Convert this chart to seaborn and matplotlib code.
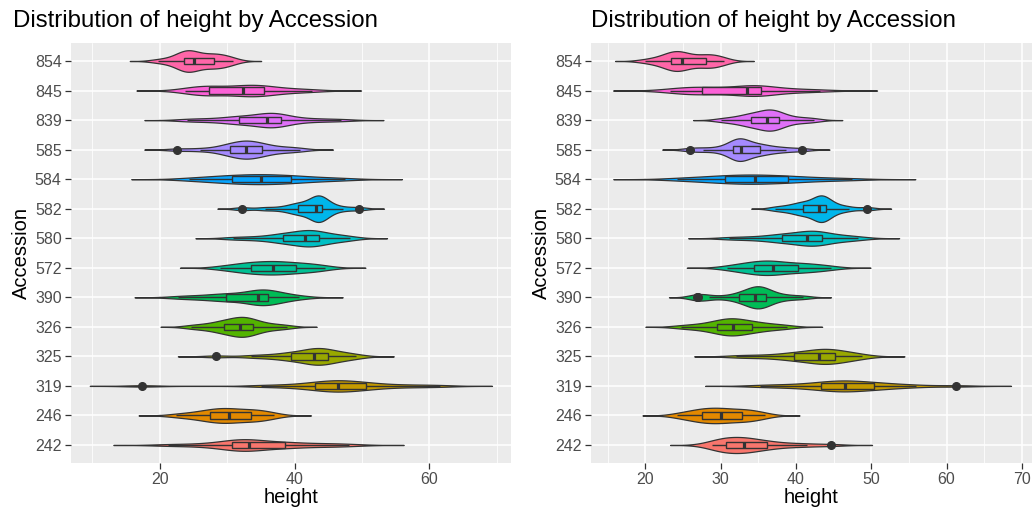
import numpy as np
import pandas as pd
import matplotlib
matplotlib.use("Agg")
import matplotlib.pyplot as plt
import seaborn as sns

# ---------------- data ----------------
accessions = ["854", "845", "839", "585", "584", "582", "580",
              "572", "390", "326", "325", "319", "246", "242"]

colors = ["#FF66A8", "#FB61D7", "#DF70F8", "#A58AFF", "#06A4FF", "#00B6EB", "#00BFC4",
          "#00C094", "#00BC56", "#53B400", "#99A800", "#C49A00", "#E38900", "#F8766D"]

# left panel heights
left_854 = [19.7, 21.4, 22.6, 23.2, 23.5, 23.6, 24.0, 24.3, 24.7, 25.0, 25.2, 25.9, 26.6, 27.4, 28.0, 28.1, 28.8, 29.5, 30.1, 30.9]
left_845 = [23.8, 24.9, 25.8, 26.7, 27.3, 27.4, 28.6, 30.1, 31.4, 32.3, 32.5, 33.2, 34.0, 34.7, 35.4, 35.5, 36.8, 38.4, 40.3, 42.6]
left_839 = [24.0, 26.5, 28.9, 30.6, 31.75, 31.85, 33.2, 34.4, 35.3, 35.8, 36.0, 36.5, 37.0, 37.5, 37.9, 38.0, 39.6, 41.5, 43.8, 46.9]
left_585 = [22.6, 25.9, 28.3, 29.6, 30.4, 30.5, 31.4, 32.0, 32.5, 32.7, 32.9, 33.3, 33.9, 34.6, 35.2, 35.3, 36.5, 37.8, 39.2, 40.8]
left_584 = [24.3, 26.2, 28.0, 29.5, 30.6, 30.7, 32.0, 33.2, 34.2, 34.9, 35.1, 36.0, 37.1, 38.3, 39.4, 39.5, 41.0, 42.8, 44.9, 47.4]
left_582 = [32.2, 35.6, 38.0, 39.6, 40.4, 40.5, 41.5, 42.3, 42.8, 43.1, 43.3, 43.5, 43.7, 43.9, 44.0, 44.1, 44.8, 45.6, 47.2, 49.6]
left_580 = [30.8, 33.5, 35.6, 37.2, 38.2, 38.3, 39.4, 40.3, 40.9, 41.4, 41.6, 42.1, 42.6, 43.1, 43.6, 43.7, 44.8, 45.9, 47.0, 48.2]
left_572 = [29.0, 30.5, 31.8, 32.8, 33.4, 33.5, 34.6, 35.5, 36.2, 36.7, 36.9, 37.5, 38.3, 39.2, 40.2, 40.3, 41.4, 42.5, 43.4, 44.5]
left_390 = [22.7, 25.0, 27.0, 28.6, 29.8, 29.9, 31.3, 32.8, 33.8, 34.4, 34.6, 34.9, 35.3, 35.7, 36.1, 36.2, 37.0, 38.0, 39.2, 40.7]
left_326 = [24.6, 26.3, 27.6, 28.7, 29.4, 29.5, 30.4, 31.0, 31.5, 31.8, 32.0, 32.3, 32.8, 33.3, 33.8, 33.9, 34.8, 35.9, 37.2, 38.8]
left_325 = [28.3, 33.6, 36.0, 38.0, 39.4, 39.5, 40.8, 41.8, 42.4, 42.8, 43.0, 43.4, 43.8, 44.3, 44.9, 45.0, 46.0, 47.0, 48.0, 49.1]
left_319 = [17.4, 35.0, 38.5, 41.0, 42.9, 43.0, 44.3, 45.3, 46.0, 46.4, 46.6, 47.2, 48.2, 49.3, 50.5, 50.6, 52.5, 55.0, 58.0, 61.5]
left_246 = [22.4, 24.1, 25.5, 26.6, 27.4, 27.5, 28.4, 29.0, 29.6, 30.1, 30.3, 30.9, 31.7, 32.6, 33.5, 33.6, 34.4, 35.2, 36.0, 36.9]
left_242 = [21.2, 25.0, 27.8, 29.6, 30.7, 30.8, 31.8, 32.4, 32.9, 33.2, 33.4, 34.2, 35.6, 37.2, 38.6, 38.7, 41.0, 43.3, 45.6, 48.1]

# right panel heights
right_854 = [20.0, 21.4, 22.4, 23.0, 23.4, 23.5, 23.9, 24.3, 24.6, 24.8, 25.0, 25.6, 26.4, 27.2, 28.0, 28.1, 28.7, 29.3, 29.8, 30.4]
right_845 = [23.3, 24.5, 25.6, 26.6, 27.4, 27.5, 29.0, 30.6, 32.1, 33.4, 33.6, 34.1, 34.6, 35.0, 35.3, 35.4, 37.0, 38.8, 40.8, 43.2]
right_839 = [30.1, 31.6, 32.6, 33.5, 34.0, 34.1, 34.9, 35.5, 35.9, 36.1, 36.3, 36.6, 37.0, 37.4, 37.7, 37.8, 38.7, 39.7, 41.0, 42.4]
right_585 = [25.9, 27.6, 29.4, 30.7, 31.6, 31.7, 32.1, 32.4, 32.6, 32.7, 32.8, 33.1, 33.6, 34.4, 35.2, 35.3, 36.2, 37.4, 38.7, 40.8]
right_584 = [24.2, 26.1, 27.9, 29.4, 30.5, 30.6, 31.8, 32.9, 33.8, 34.4, 34.6, 35.5, 36.6, 37.8, 38.9, 39.0, 40.6, 42.5, 44.8, 47.4]
right_582 = [37.2, 38.6, 39.6, 40.4, 40.9, 41.0, 41.9, 42.5, 42.8, 43.0, 43.2, 43.4, 43.6, 43.8, 44.0, 44.1, 44.9, 45.8, 47.0, 49.5]
right_580 = [31.1, 33.6, 35.6, 37.1, 38.1, 38.2, 39.3, 40.2, 40.9, 41.4, 41.6, 42.0, 42.5, 43.0, 43.4, 43.5, 44.6, 45.8, 47.0, 48.3]
right_572 = [30.8, 32.0, 33.0, 33.9, 34.4, 34.5, 35.4, 36.0, 36.5, 36.8, 37.0, 37.6, 38.4, 39.3, 40.3, 40.4, 41.4, 42.4, 43.4, 44.6]
right_390 = [26.8, 27.0, 28.4, 30.6, 32.4, 32.5, 33.4, 34.0, 34.3, 34.5, 34.7, 35.0, 35.3, 35.7, 36.0, 36.1, 36.9, 37.8, 39.2, 41.0]
right_326 = [24.7, 26.4, 27.7, 28.8, 29.5, 29.6, 30.4, 31.0, 31.3, 31.5, 31.7, 32.1, 32.7, 33.4, 34.1, 34.2, 35.2, 36.2, 37.4, 38.8]
right_325 = [32.1, 34.6, 36.8, 38.6, 39.7, 39.8, 41.0, 41.9, 42.6, 43.0, 43.2, 43.6, 44.1, 44.6, 45.2, 45.3, 46.1, 46.9, 47.8, 48.8]
right_319 = [35.2, 37.8, 40.0, 41.9, 43.3, 43.4, 44.6, 45.5, 46.1, 46.4, 46.6, 47.3, 48.3, 49.3, 50.4, 50.5, 52.0, 53.8, 56.0, 61.3]
right_246 = [24.2, 25.3, 26.2, 27.0, 27.5, 27.6, 28.3, 28.9, 29.4, 29.9, 30.1, 30.6, 31.3, 32.0, 32.8, 32.9, 33.6, 34.3, 35.0, 35.9]
right_242 = [28.8, 29.4, 29.9, 30.4, 30.7, 30.8, 31.7, 32.3, 32.7, 33.0, 33.2, 33.6, 34.3, 35.1, 36.1, 36.2, 37.8, 39.6, 41.5, 44.6]

left_major = [20, 40, 60]
left_minor = [10, 30, 50, 70]
right_major = [20, 30, 40, 50, 60, 70]
right_minor = [15, 25, 35, 45, 55, 65]

title_text = "Distribution of height by Accession"

left_sets = [left_854, left_845, left_839, left_585, left_584, left_582, left_580,
             left_572, left_390, left_326, left_325, left_319, left_246, left_242]
right_sets = [right_854, right_845, right_839, right_585, right_584, right_582, right_580,
              right_572, right_390, right_326, right_325, right_319, right_246, right_242]


def to_frame(sets):
    rows = []
    for acc, vals in zip(accessions, sets):
        for v in vals:
            rows.append((acc, v))
    return pd.DataFrame(rows, columns=["Accession", "height"])


def nrd0(kde):
    # R's default bandwidth (bw.nrd0), expressed as a factor of the sample sd
    d = np.asarray(kde.dataset).ravel()
    n = d.size
    sd = d.std(ddof=1)
    q75, q25 = np.percentile(d, [75, 25])
    lo = min(sd, (q75 - q25) / 1.34)
    return 0.9 * lo * n ** -0.2 / sd


# ---------------- style ----------------
sns.set_theme(style="darkgrid")
plt.rcParams["font.family"] = ["Liberation Sans", "DejaVu Sans"]

palette = dict(zip(accessions, colors))
edge = "#333333"

fig = plt.figure(figsize=(10.35, 5.11), dpi=100)
ax_l = fig.add_axes([0.0683, 0.0945, 0.4255, 0.8208])
ax_r = fig.add_axes([0.5707, 0.0945, 0.4261, 0.8208])

panels = [
    (ax_l, to_frame(left_sets), left_major, left_minor, (6.8, 72.1)),
    (ax_r, to_frame(right_sets), right_major, right_minor, (12.75, 71.3)),
]

for ax, df, major, minor, xlim in panels:
    ax.set_facecolor("#EBEBEB")
    sns.violinplot(data=df, x="height", y="Accession", hue="Accession", order=accessions,
                   hue_order=accessions, palette=palette, legend=False, ax=ax,
                   inner=None, cut=3, bw_method=nrd0, bw_adjust=0.93,
                   density_norm="area", common_norm=True, width=0.9,
                   saturation=1, linewidth=0.9, linecolor=edge)
    sns.boxplot(data=df, x="height", y="Accession", hue="Accession", order=accessions,
                hue_order=accessions, palette=palette, legend=False, ax=ax,
                width=0.22, saturation=1, linewidth=1.0, linecolor=edge,
                showcaps=False, whis=1.5,
                medianprops=dict(linewidth=2.3, color=edge),
                flierprops=dict(marker="o", markerfacecolor=edge, markeredgecolor=edge,
                                markersize=5.5))
    ax.set_xlim(*xlim)
    ax.set_ylim(len(accessions) - 1 + 0.6, -0.6)
    ax.set_xticks(major)
    ax.set_xticks(minor, minor=True)
    ax.set_axisbelow(True)
    ax.grid(False)
    ax.xaxis.grid(True, which="major", color="white", linewidth=1.1)
    ax.xaxis.grid(True, which="minor", color="white", linewidth=0.55)
    ax.yaxis.grid(True, which="major", color="white", linewidth=1.1)
    for s in ax.spines.values():
        s.set_visible(False)
    ax.tick_params(axis="both", which="major", length=4, width=0.9, color=edge,
                   labelsize=11.5, labelcolor="#4D4D4D", pad=2.5,
                   bottom=True, left=True)
    ax.tick_params(axis="x", which="minor", length=0)
    ax.set_xlabel("height", fontsize=14.5, color="black", labelpad=1)
    ax.set_ylabel("Accession", fontsize=14.5, color="black", labelpad=3)

fig.text(13 / 1035, 1 - 21 / 511, title_text, fontsize=17.3, ha="left", va="center", color="black")
fig.text(591 / 1035, 1 - 21 / 511, title_text, fontsize=17.3, ha="left", va="center", color="black")

fig.savefig("out.png", dpi=100, facecolor="white")
